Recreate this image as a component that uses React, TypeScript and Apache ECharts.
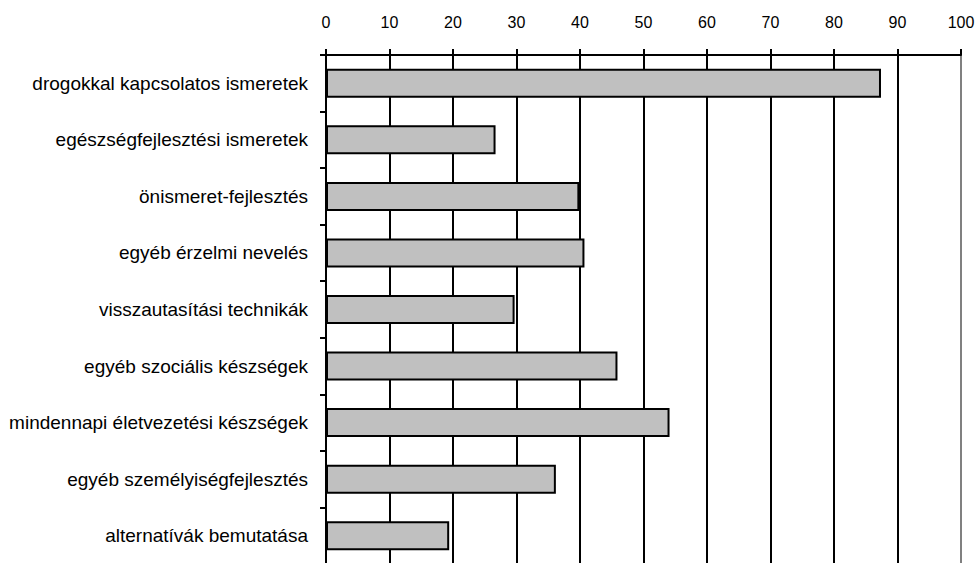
import React, { useEffect, useRef } from "react";
import * as echarts from "echarts";

const categories = [
  "drogokkal kapcsolatos ismeretek",
  "egészségfejlesztési ismeretek",
  "önismeret-fejlesztés",
  "egyéb érzelmi nevelés",
  "visszautasítási technikák",
  "egyéb szociális készségek",
  "mindennapi életvezetési készségek",
  "egyéb személyiségfejlesztés",
  "alternatívák bemutatása",
];
const values = [87.4, 26.7, 39.9, 40.7, 29.7, 45.9, 54.1, 36.2, 19.4];
const splitColors = ["#000", "#000", "#000", "#000", "#000", "#000", "#000", "#000", "#000", "#000", "#808080"];

export default function App() {
  const ref = useRef<HTMLDivElement>(null);
  useEffect(() => {
    if (!ref.current) return;
    const chart = echarts.init(ref.current, null, { renderer: "svg" });
    const font = "'Liberation Sans', Arial, sans-serif";
    chart.setOption({
      animation: false,
      grid: {
        left: 326,
        right: 16,
        top: 55,
        height: 509,
        containLabel: false,
        outerBoundsMode: "none",
      },
      xAxis: {
        type: "value",
        position: "top",
        min: 0,
        max: 100,
        interval: 10,
        axisLine: { show: true, lineStyle: { color: "#000", width: 2 } },
        axisTick: { show: true, length: 6, lineStyle: { color: "#000", width: 2 } },
        axisLabel: { color: "#000", fontFamily: font, fontSize: 16, margin: 25 },
        splitLine: { show: true, lineStyle: { color: splitColors, width: 2 } },
      },
      yAxis: {
        type: "category",
        inverse: true,
        data: categories,
        axisLine: { show: true, lineStyle: { color: "#000", width: 2 } },
        axisTick: { show: true, length: 6, lineStyle: { color: "#000", width: 2 } },
        axisLabel: { color: "#000", fontFamily: font, fontSize: 19, margin: 18 },
        splitLine: { show: false },
      },
      series: [
        {
          type: "bar",
          data: values,
          barWidth: 29,
          itemStyle: { color: "#c0c0c0", borderColor: "#000", borderWidth: 2 },
        },
      ],
    });
    return () => chart.dispose();
  }, []);
  return <div ref={ref} style={{ width: 977, height: 563, position: "absolute", left: 0, top: 0 }} />;
}
